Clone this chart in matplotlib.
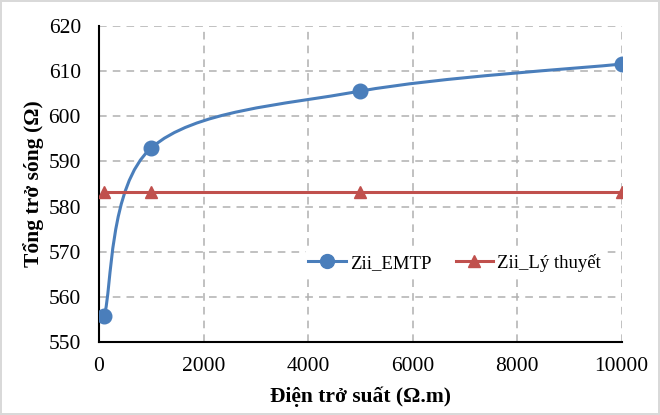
import matplotlib.pyplot as plt
from matplotlib.path import Path
from matplotlib.patches import PathPatch
from matplotlib.lines import Line2D

# dữ liệu
dien_tro = [100, 1000, 5000, 10000]          # Ω.m
zii_emtp = [555.7, 593.0, 605.6, 611.6]      # Ω
zii_ly_thuyet = [583.3, 583.3, 583.3, 583.3]  # Ω

xticks = [0, 2000, 4000, 6000, 8000, 10000]
yticks = [550, 560, 570, 580, 590, 600, 610, 620]

blue = '#4a7ebb'
red = '#c0504d'

plt.rcParams['font.family'] = ['Liberation Serif', 'DejaVu Serif']

fig = plt.figure(figsize=(6.6, 4.15), dpi=100)
fig.patch.set_edgecolor('#d9d9d9')
fig.patch.set_linewidth(1.5)
ax = fig.add_axes([0.15, 0.176, 0.792, 0.761])


def smooth_path(xs, ys):
    # duong cong kieu Excel (Catmull-Rom -> Bezier)
    pts = list(zip(xs, ys))
    verts = [pts[0]]
    codes = [Path.MOVETO]
    n = len(pts)
    for i in range(n - 1):
        p0 = pts[i - 1] if i > 0 else pts[i]
        p1 = pts[i]
        p2 = pts[i + 1]
        p3 = pts[i + 2] if i + 2 < n else pts[i + 1]
        c1 = (p1[0] + (p2[0] - p0[0]) / 6, p1[1] + (p2[1] - p0[1]) / 6)
        c2 = (p2[0] - (p3[0] - p1[0]) / 6, p2[1] - (p3[1] - p1[1]) / 6)
        verts += [c1, c2, p2]
        codes += [Path.CURVE4] * 3
    return Path(verts, codes)


ax.add_patch(PathPatch(smooth_path(dien_tro, zii_emtp), fill=False,
                       edgecolor=blue, lw=2.2, zorder=3))
ax.plot(dien_tro, zii_emtp, 'o', color=blue, ms=10.5, zorder=4)
ax.plot(dien_tro, zii_ly_thuyet, '-^', color=red, lw=2.2, ms=9, zorder=5)

ax.set_xlim(0, 10000)
ax.set_ylim(550, 620)
ax.set_xticks(xticks)
ax.set_yticks(yticks)
ax.tick_params(axis='x', length=0, labelsize=15.5, pad=11)
ax.tick_params(axis='y', length=0, labelsize=15.5, pad=13)
ax.grid(True, color='#b0b0b0', linestyle=(0, (5, 4)), lw=1.1)
ax.set_axisbelow(True)
for s in ['top', 'right']:
    ax.spines[s].set_visible(False)
for s in ['left', 'bottom']:
    ax.spines[s].set_linewidth(1.5)

ax.set_xlabel('Điện trở suất (Ω.m)', fontsize=15.5, fontweight='bold')
ax.set_ylabel('Tổng trở sóng (Ω)', fontsize=15.5, fontweight='bold')
ax.xaxis.set_label_coords(0.5, -0.142)
ax.yaxis.set_label_coords(-0.105, 0.5)

handles = [
    Line2D([], [], color=blue, lw=2.2, marker='o', ms=10),
    Line2D([], [], color=red, lw=2.2, marker='^', ms=9),
]
leg = ax.legend(handles, ['Zii_EMTP', 'Zii_Lý thuyết'], ncol=2, loc='center',
                bbox_to_anchor=(0.68, 0.25), fontsize=13.5, frameon=True,
                handlelength=2.0, handletextpad=0.2, columnspacing=1.3,
                borderpad=0.2)
leg.get_frame().set_edgecolor('none')
leg.get_frame().set_facecolor('white')
leg.get_frame().set_alpha(1)

fig.savefig('out.png', dpi=100, edgecolor=fig.get_edgecolor())
